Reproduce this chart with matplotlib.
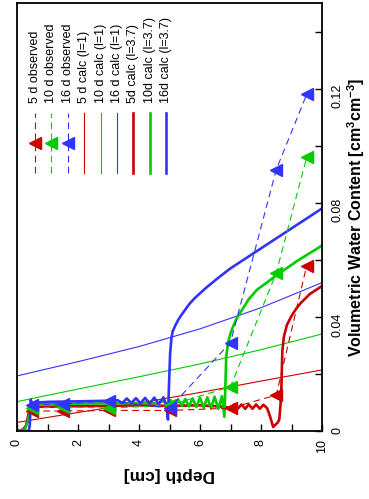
import matplotlib
matplotlib.use('Agg')
import matplotlib.pyplot as plt

plt.rcParams['font.family'] = ['Liberation Sans', 'DejaVu Sans']
plt.rcParams['mathtext.fontset'] = 'custom'
plt.rcParams['mathtext.rm'] = 'Liberation Sans'
plt.rcParams['mathtext.bf'] = 'Liberation Sans:bold'

# observed profiles (depth in cm, water content in cm3/cm3)
depth_obs = [0.5, 1.5, 3, 5, 7, 8.5, 9.5]
obs_5d = [0.007, 0.007, 0.0072, 0.0072, 0.008, 0.0126, 0.058]
obs_10d = [0.008, 0.0085, 0.008, 0.009, 0.0155, 0.0554, 0.096]
obs_16d = [0.009, 0.0095, 0.0105, 0.008, 0.031, 0.0916, 0.118]

# calculated, l = 1
depth_calc1 = [0, 2, 4, 6, 8, 10]
calc1_5d = [0.003, 0.0065, 0.0098, 0.0135, 0.0175, 0.0214]
calc1_10d = [0.0103, 0.0147, 0.019, 0.0235, 0.0285, 0.034]
calc1_16d = [0.0193, 0.0243, 0.0296, 0.0358, 0.0432, 0.052]

# calculated, l = 3.7
depth_5d = [0, 0.2, 0.3, 0.38, 0.45, 0.6, 1, 2, 3, 4, 5, 6, 6.8, 7.0, 7.12, 7.24,
            7.36, 7.48, 7.6, 7.72, 7.84, 7.96, 8.08, 8.2, 8.3, 8.4, 8.55, 8.6,
            8.66, 8.7, 8.75, 8.85, 9.0, 9.15, 9.3, 9.6, 10]
calc37_5d = [0, 0.0005, 0.002, 0.006, 0.008, 0.0085, 0.0085, 0.0087, 0.0088, 0.009,
             0.0088, 0.009, 0.0085, 0.008, 0.0093, 0.0078, 0.0093, 0.0078, 0.0093,
             0.0078, 0.0093, 0.0078, 0.0092, 0.008, 0.005, 0.0014, 0.003, 0.004,
             0.012, 0.028, 0.033, 0.0372, 0.0403, 0.0428, 0.0448, 0.048, 0.0508]

depth_10d = [0, 0.25, 0.35, 0.45, 0.6, 1, 2, 3, 4, 4.6, 4.8, 4.92, 5.04, 5.16,
             5.28, 5.4, 5.52, 5.64, 5.76, 5.88, 6.0, 6.12, 6.24, 6.36, 6.48, 6.6,
             6.72, 6.8, 6.83, 6.86, 6.92, 7.0, 7.08, 7.2, 7.38, 7.6, 7.87, 8.5,
             9.2, 10]
calc37_10d = [0, 0.0005, 0.003, 0.008, 0.0092, 0.0095, 0.0096, 0.0097, 0.0098,
              0.0098, 0.0105, 0.0092, 0.0108, 0.009, 0.011, 0.0088, 0.0112, 0.0086,
              0.0114, 0.0084, 0.0116, 0.0082, 0.0118, 0.008, 0.012, 0.0078, 0.0122,
              0.005, 0.015, 0.026, 0.031, 0.0342, 0.0365, 0.0394, 0.0425, 0.0462,
              0.0495, 0.0545, 0.0597, 0.065]

depth_16d = [0, 0.38, 0.42, 0.45, 0.5, 0.7, 1, 2, 3, 3.3, 3.45, 3.6, 3.75, 3.9,
             4.05, 4.2, 4.35, 4.5, 4.65, 4.8, 4.9, 4.95, 4.98, 5.02, 5.06, 5.1,
             5.2, 5.29, 5.4, 5.5, 5.65, 5.84, 6.2, 6.6, 7.0, 8.0, 9.0, 10]
calc37_16d = [0, 0, 0.002, 0.011, 0.0095, 0.01, 0.0102, 0.0104, 0.0106, 0.0108,
              0.0098, 0.0114, 0.0098, 0.0115, 0.0097, 0.0116, 0.0096, 0.0117,
              0.0095, 0.0118, 0.009, 0.004, 0.015, 0.027, 0.0322, 0.0348, 0.0372,
              0.039, 0.0408, 0.0423, 0.0445, 0.0467, 0.0502, 0.0537, 0.057, 0.064,
              0.071, 0.078]

depth_ticks = [0, 2, 4, 6, 8, 10]
theta_ticks = [0, 0.04, 0.08, 0.12]
theta_ticklabels = ['0', '0.04', '0.08', '0.12']

labels = ['5 d observed', '10 d observed', '16 d observed',
          '5 d calc (l=1)', '10 d calc (l=1)', '16 d calc (l=1)',
          '5d calc (l=3.7)', '10d calc (l=3.7)', '16d calc (l=3.7)']

red, green, blue = '#cc0000', '#00cc00', '#3333ff'

fig = plt.figure(figsize=(3.69, 4.99), dpi=100)
ax = fig.add_axes([17 / 369, 68 / 499, 305 / 369, 428 / 499])

obs = [(obs_5d, red), (obs_10d, green), (obs_16d, blue)]
calc1 = [(calc1_5d, red), (calc1_10d, green), (calc1_16d, blue)]
calc37 = [(depth_5d, calc37_5d, red), (depth_10d, calc37_10d, green),
          (depth_16d, calc37_16d, blue)]

for vals, c in calc1:
    ax.plot(depth_calc1, vals, color=c, lw=0.8)
for d, vals, c in calc37:
    ax.plot(d, vals, color=c, lw=1.9)
for vals, c in obs:
    ax.plot(depth_obs, vals, color=c, lw=0.8, ls=(0, (6, 4)))
    ax.plot(depth_obs, vals, ls='none', marker='<', ms=8.5, color=c)

ax.set_xlim(0, 10)
ax.set_ylim(0, 0.15)
ax.yaxis.tick_right()
ax.yaxis.set_label_position('right')
ax.set_xticks(depth_ticks)
ax.set_xticks(range(11), minor=True)
ax.set_yticks(theta_ticks)
ax.set_yticklabels(theta_ticklabels)
ax.set_yticks([0.02 * i for i in range(8)], minor=True)
ax.tick_params(which='both', direction='in', length=5, width=1, labelsize=9,
               labelrotation=90, pad=6)
ax.tick_params(axis='y', pad=7)
for s in ax.spines.values():
    s.set_linewidth(1.3)

ax.set_xlabel('Depth [cm]', fontsize=12.5, fontweight='bold', rotation=180,
              labelpad=10)
ax.set_ylabel(r'Volumetric Water Content [cm$^\mathbf{3}$cm$^\mathbf{-3}$]',
              fontsize=11.5, fontweight='bold', rotation=90, labelpad=1)

# hand-made legend, rotated with the rest of the chart
styles = [dict(color=red, lw=0.8, ls=(0, (6, 4))), dict(color=green, lw=0.8, ls=(0, (6, 4))),
          dict(color=blue, lw=0.8, ls=(0, (6, 4))), dict(color=red, lw=0.8),
          dict(color=green, lw=0.8), dict(color=blue, lw=0.8),
          dict(color=red, lw=1.9), dict(color=green, lw=1.9), dict(color=blue, lw=1.9)]
for i, (lab, st) in enumerate(zip(labels, styles)):
    x = (35 + 16.4 * i - 17) / 305
    ax.plot([x, x], [0.603, 0.743], transform=ax.transAxes, **st)
    if i < 3:
        ax.plot([x], [0.673], transform=ax.transAxes, marker='<', ms=8.5,
                color=st['color'])
    ax.text(x, 0.766, lab, transform=ax.transAxes, rotation=90, ha='center',
            va='bottom', fontsize=9)

fig.savefig('out.png', dpi=100)
